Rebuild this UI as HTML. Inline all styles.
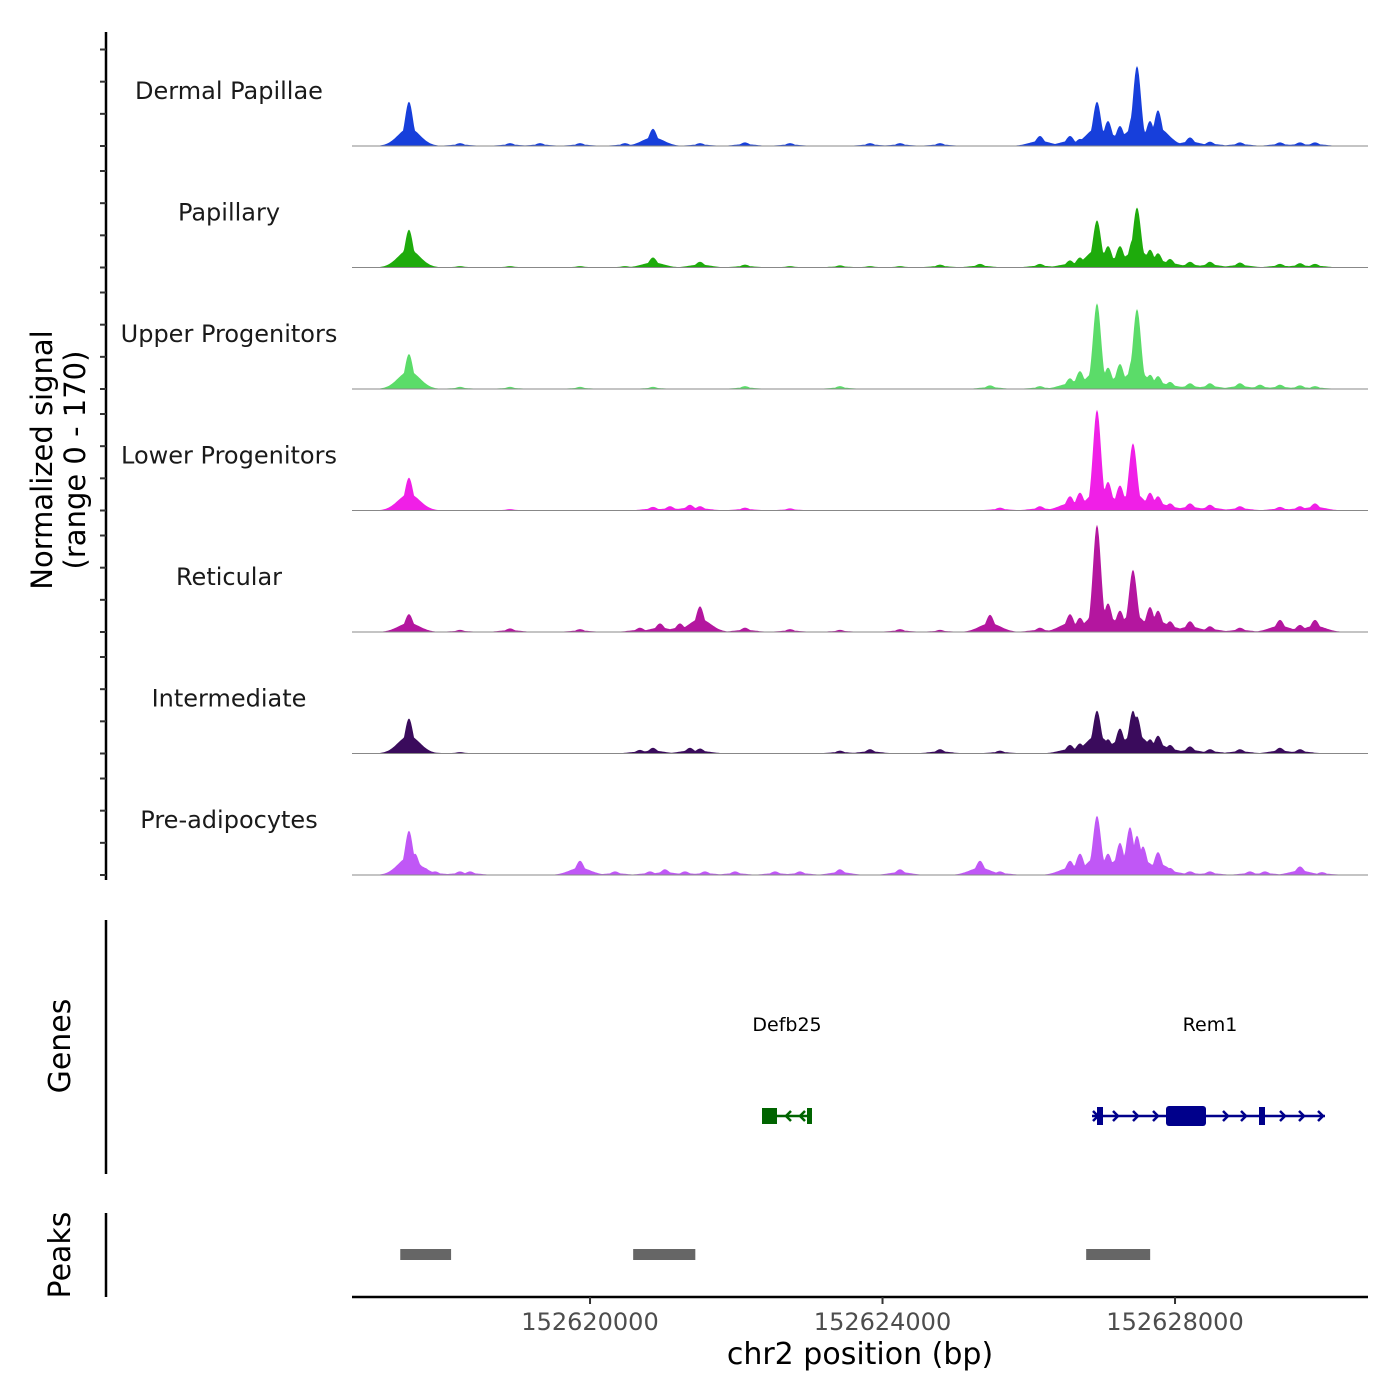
<!DOCTYPE html>
<html><head><meta charset="utf-8"><style>
body{margin:0;background:#fff}
svg{display:block;font-family:"DejaVu Sans","Liberation Sans",sans-serif}
</style></head><body>
<svg id="c" width="1400" height="1400" viewBox="0 0 1400 1400" xmlns="http://www.w3.org/2000/svg"></svg>
<script>
const trackNames = ["Dermal Papillae","Papillary","Upper Progenitors","Lower Progenitors","Reticular","Intermediate","Pre-adipocytes"];
const trackColors = ["#173fdb","#1eab0c","#5bdc69","#f01fe7","#b4169f","#3a0b5c","#c057f6"];
const xTicks = [152620000,152624000,152628000];
const yRangeMax = 170;
const dpPos = [152617524,152618222,152618906,152619316,152619863,152620478,152620861,152621504,152622119,152622735,152623829,152624239,152624786,152626153,152626564,152626700,152626933,152627083,152627247,152627425,152627480,152627658,152627767,152627931,152628205,152628478,152628888,152629435,152629709,152629914];
const dpVal = [62,4,4,4,4,4,24,4,5,4,4,4,4,14,14,10,62,35,28,45,112,35,50,12,12,6,5,5,5,5];
const papPos = [152617524,152618222,152618906,152619863,152620478,152620861,152621504,152622119,152622735,152623418,152623829,152624239,152624786,152625333,152626153,152626564,152626700,152626933,152627083,152627247,152627425,152627480,152627658,152627767,152627931,152628205,152628478,152628888,152629435,152629709,152629914];
const papVal = [53,2,2,2,2,14,8,4,2,3,2,2,4,5,5,10,14,66,30,30,40,84,25,20,12,8,8,7,5,6,5];
const upPos = [152617524,152618222,152618906,152619863,152620861,152622119,152623418,152625470,152626153,152626564,152626700,152626933,152627083,152627247,152627425,152627480,152627658,152627767,152627931,152628205,152628478,152628888,152629162,152629435,152629709,152629914];
const upVal = [49,3,3,3,3,4,4,5,4,15,25,120,30,35,45,112,20,18,10,8,8,8,6,6,5,4];
const lowPos = [152617524,152618906,152620861,152621094,152621367,152621504,152622119,152622735,152625606,152626153,152626564,152626700,152626933,152627083,152627247,152627425,152627658,152627767,152627931,152628205,152628478,152628888,152629435,152629709,152629914];
const lowVal = [46,2,5,6,8,6,4,3,4,6,20,25,141,40,35,94,25,20,10,10,8,6,5,6,10];
const retPos = [152617524,152618222,152618906,152619863,152620683,152620957,152621230,152621504,152622119,152622735,152623418,152624239,152624786,152625470,152626153,152626564,152626700,152626933,152627083,152627247,152627425,152627658,152627767,152627931,152628205,152628478,152628888,152629435,152629709,152629914];
const retVal = [25,3,5,4,6,12,12,36,6,4,3,4,3,24,6,25,20,150,40,30,87,35,30,15,15,8,6,17,10,17];
const intPos = [152617524,152617743,152618222,152620683,152620861,152621367,152621504,152623418,152623829,152624786,152625606,152626564,152626700,152626933,152627083,152627247,152627425,152627480,152627658,152627767,152627931,152628205,152628478,152628888,152629435,152629709];
const intVal = [49,4,2,5,8,8,7,4,6,6,4,12,14,60,20,35,60,52,20,25,12,10,6,6,8,6];
const prePos = [152617524,152617607,152617743,152617880,152618222,152618359,152619863,152620342,152620820,152621025,152621299,152621572,152621983,152622530,152622871,152623418,152624239,152625333,152625606,152626564,152626700,152626933,152627083,152627247,152627384,152627480,152627562,152627767,152627931,152628205,152628478,152629025,152629230,152629709,152630010];
const preVal = [62,30,10,5,5,5,20,5,5,8,5,5,5,5,5,8,8,20,5,20,30,83,30,45,67,55,40,32,10,5,5,5,5,12,4];
const trackPos = [dpPos,papPos,upPos,lowPos,retPos,intPos,prePos];
const trackVal = [dpVal,papVal,upVal,lowVal,retVal,intVal,preVal];
const peakStarts = [152617405,152620590,152626785];
const peakEnds = [152618100,152621440,152627660];

const NS="http://www.w3.org/2000/svg";
const svg=document.getElementById('c');
function mk(tag,attrs,parent){const e=document.createElementNS(NS,tag);for(const k in attrs)e.setAttribute(k,attrs[k]);(parent||svg).appendChild(e);return e;}
const X0=352,X1=1368,BP0=152616745,BP1=152630639;
const xs=bp=>X0+(bp-BP0)/(BP1-BP0)*(X1-X0);
const trackH=121.5, base0=146;
const ys=(v,b)=>b-v/yRangeMax*trackH;
const sigmaNarrow=55, sigmaWide=150;

const ax=mk('line',{x1:106,y1:32,x2:106,y2:880,stroke:'#000','stroke-width':2.5});


for(let t=0;t<7;t++){
  const b=base0+t*trackH;
  for(const v of [0,45,90,135]){
    const y=b-v/yRangeMax*trackH;
    const tk=mk('line',{x1:100,y1:y,x2:106,y2:y,stroke:'#333','stroke-width':2});
    
    
  }
}
const yt=mk('text',{x:0,y:0,'font-size':29,fill:'#000','text-anchor':'middle',transform:'translate(52,460) rotate(-90)'});


mk('tspan',{x:0,dy:0},yt).textContent='Normalized signal';
mk('tspan',{x:0,dy:33},yt).textContent='(range 0 - 170)';

for(let t=0;t<7;t++){
  const b=base0+t*trackH;
  const pos=trackPos[t], val=trackVal[t];
  let d='M'+X0+','+b;
  for(let px=X0;px<=X1;px+=1){
    const bp=BP0+(px-X0)/(X1-X0)*(BP1-BP0);
    let m=0,w=0;
    for(let i=0;i<pos.length;i++){
      const dn=(bp-pos[i])/sigmaNarrow, dw=(bp-pos[i])/sigmaWide;
      if(Math.abs(dw)<5){
        m=Math.max(m,val[i]*Math.exp(-dn*dn/2));
        w=Math.max(w,0.5*Math.min(val[i],50)*Math.exp(-dw*dw/2));
      }
    }
    const v=Math.max(m,w);
    d+=' L'+px+','+ys(Math.min(v,yRangeMax),b).toFixed(1);
  }
  d+=' L'+X1+','+b+' Z';
  const p=mk('path',{d:d,fill:trackColors[t],stroke:'none'});
  
  
  const bl=mk('line',{x1:X0,y1:b,x2:X1,y2:b,stroke:'#888','stroke-width':1});
  
  
  const lb=mk('text',{x:229,y:b-47,'font-size':24,fill:'#1a1a1a','text-anchor':'middle'});
  lb.textContent=trackNames[t];
  
  
}

const ga=mk('line',{x1:106,y1:920,x2:106,y2:1174,stroke:'#000','stroke-width':2.5});


const gt=mk('text',{x:0,y:0,'font-size':30,'text-anchor':'middle',transform:'translate(70,1046) rotate(-90)'});
gt.textContent='Genes';


const gg=mk('g',{});


mk('text',{x:787,y:1031,'font-size':19,'text-anchor':'middle'},gg).textContent='Defb25';
mk('line',{x1:762,y1:1116,x2:812,y2:1116,stroke:'#006400','stroke-width':2.5},gg);
mk('rect',{x:762,y:1108,width:15,height:16,fill:'#006400'},gg);
mk('rect',{x:807,y:1108,width:5,height:16,fill:'#006400'},gg);
for(const ax2 of [786,800]) mk('path',{d:`M${ax2+5},1111 L${ax2},1116 L${ax2+5},1121`,stroke:'#006400','stroke-width':2.5,fill:'none'},gg);
const gr=mk('g',{});


mk('text',{x:1210,y:1031,'font-size':19,'text-anchor':'middle'},gr).textContent='Rem1';
mk('line',{x1:1092,y1:1116,x2:1325,y2:1116,stroke:'#00008b','stroke-width':2.5},gr);
mk('rect',{x:1097,y:1107,width:6,height:18,fill:'#00008b'},gr);
mk('rect',{x:1166,y:1106,width:40,height:20,rx:3,fill:'#00008b'},gr);
mk('rect',{x:1259,y:1107,width:6,height:18,fill:'#00008b'},gr);
for(const ax2 of [1093,1113,1133,1153,1223,1241,1280,1299,1318]) mk('path',{d:`M${ax2},1111 L${ax2+5},1116 L${ax2},1121`,stroke:'#00008b','stroke-width':2.5,fill:'none'},gr);

const pa=mk('line',{x1:106,y1:1213,x2:106,y2:1297,stroke:'#000','stroke-width':2.5});


const pt=mk('text',{x:0,y:0,'font-size':30,'text-anchor':'middle',transform:'translate(70,1255) rotate(-90)'});
pt.textContent='Peaks';


for(let i=0;i<peakStarts.length;i++){
  const r=mk('rect',{x:xs(peakStarts[i]),y:1249,width:xs(peakEnds[i])-xs(peakStarts[i]),height:11,fill:'#666'});
  
  
}

const xa=mk('line',{x1:X0,y1:1297,x2:X1,y2:1297,stroke:'#000','stroke-width':2.5});


for(const t of xTicks){
  const x=xs(t);
  const tk=mk('line',{x1:x,y1:1297,x2:x,y2:1304,stroke:'#333','stroke-width':2});
  
  
  const tl=mk('text',{x:x,y:1330,'font-size':24,fill:'#4d4d4d','text-anchor':'middle'});
  tl.textContent=t;
  
  
}
const xt=mk('text',{x:860,y:1364,'font-size':30,'text-anchor':'middle'});
xt.textContent='chr2 position (bp)';


</script>
</body></html>
